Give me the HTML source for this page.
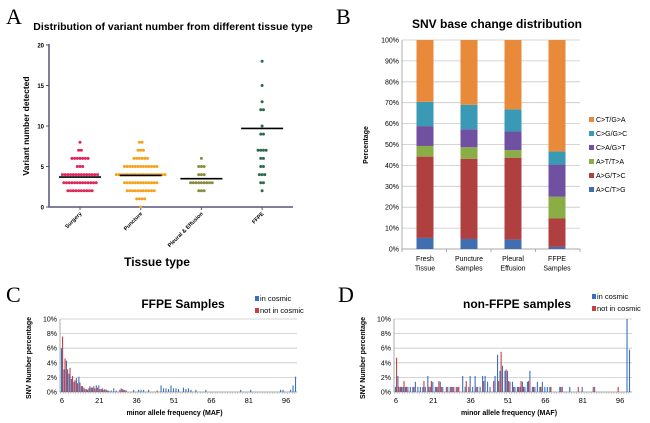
<!DOCTYPE html>
<html><head><meta charset="utf-8"><style>
body{margin:0;background:#fff;}
svg{display:block;font-family:"Liberation Sans",Arial,sans-serif;}
</style></head><body>
<svg id="fig" width="650" height="423" viewBox="0 0 650 423">
<g id="pA"></g>
<g id="pB"></g>
<g id="pC"></g>
<g id="pD"></g>
</svg>
<script>
// ---- Panel A data ----
const aCategories=["Surgery","Puncture","Pleural & Effusion","FFPE"];
const aColors=["#e0245a","#f5a21a","#8a8a3a","#2a6a4a"];
const aSurgery=[8,7,7,6,6,6,6,6,6,6,5,5,5,4,4,4,4,4,4,4,4,4,4,4,4,4,4,3,3,3,3,3,3,3,3,3,3,3,3,3,2,2,2,2,2,2,2,2,2,2];
const aPuncture=[8,8,7,7,7,6,6,6,6,6,6,5,5,5,5,5,5,5,5,5,5,5,5,5,4,4,4,4,4,4,4,4,4,4,4,4,4,4,4,4,4,4,4,3,3,3,3,3,3,3,3,3,3,3,3,3,2,2,2,2,2,2,2,2,2,2,2,1,1,1,1,0];
const aPleural=[6,5,5,5,4,4,4,3,3,3,3,3,3,3,3,3,2,2,2];
const aFFPE=[18,15,13,12,12,10,9,9,7,7,7,7,6,6,5,5,4,4,4,3,3,2];
const aMeans=[3.7,3.9,3.5,9.7];
const aTicks=[0,5,10,15,20];
// ---- Panel B data ----
const bCategories=[["Fresh","Tissue"],["Puncture","Samples"],["Pleural","Effusion"],["FFPE","Samples"]];
const bSeries=["A>C/T>G","A>G/T>C","A>T/T>A","C>A/G>T","C>G/G>C","C>T/G>A"];
const bColors=["#3f6fb0","#b04040","#8aad45","#7050a0","#3a9ab5","#e88a3a"];
const bAC=[5.3,4.8,4.5,1.0];
const bAG=[38.9,38.4,39.2,13.6];
const bAT=[5.1,5.5,3.6,10.4];
const bCA=[9.5,8.6,8.9,15.4];
const bCG=[11.6,11.7,10.6,6.3];
const bCT=[29.6,31.0,33.2,53.3];
const bTicks=[0,10,20,30,40,50,60,70,80,90,100];
// ---- Panel C data (MAF -> %) ----
const cBlueMaf=[6,7,8,9,10,11,12,13,14,15,16,17,18,19,20,21,22,23,24,25,26,27,28,30,31,32,35,37,38,39,41,46,47,48,49,50,51,52,53,55,56,57,58,60,64,78,82,94,95,98,99,100];
const cBlueVal=[6,3.1,4.3,2.5,1.8,1.4,1.9,2.1,0.8,0.6,0.4,0.5,0.6,0.8,0.9,0.9,0.4,0.3,0.3,0.2,0.2,0.5,0.2,0.5,0.3,0.2,0.3,0.3,0.3,0.3,0.3,0.9,0.5,0.5,0.4,0.9,0.5,0.5,0.4,0.6,0.4,0.5,0.3,0.3,0.3,0.3,0.3,0.3,0.3,0.3,0.9,2.1];
const cRedMaf=[6,7,8,9,10,11,12,13,14,15,16,17,18,19,20,21,22,23,24,29,30,31,44];
const cRedVal=[7.6,4.6,3.1,3.3,2.2,1.6,1.2,1.3,0.8,0.4,0.3,0.8,0.6,0.5,0.6,0.4,0.5,0.4,0.2,0.3,0.4,0.3,0.2];
// ---- Panel D data ----
const dBlueMaf=[6,7,8,9,10,11,12,13,14,15,16,17,18,19,20,21,22,23,24,25,27,28,29,31,33,34,36,37,38,39,40,41,42,43,44,46,47,48,49,50,51,52,53,54,55,56,57,58,59,60,61,62,63,64,65,66,67,68,72,73,76,81,86,99,100];
const dBlueVal=[0.7,2.2,0.7,0.7,0.7,0.7,0.7,0.7,1.4,0.7,0.7,0.7,0.7,2.2,0.7,1.4,0.7,0.7,1.4,0.7,0.7,0.7,0.7,0.7,2.2,0.7,2.2,0.7,2.2,0.7,0.7,2.2,2.2,1.4,0.7,2.2,5.1,2.9,3.6,2.9,2.9,1.4,1.4,0.7,0.7,0.7,1.4,0.7,1.4,2.9,0.7,0.7,1.4,0.7,1.4,0.7,0.7,0.7,0.7,0.7,0.7,0.7,0.7,10,5.8];
const dRedMaf=[6,7,8,9,10,13,17,19,20,22,23,24,26,28,29,30,31,34,35,38,41,45,47,48,50,51,53,55,56,57,59,61,64,68,72,79,85,95];
const dRedVal=[4.7,0.7,0.7,1.5,0.7,0.7,1.5,0.7,1.5,0.7,1.5,0.7,0.7,0.7,0.7,0.7,0.7,1.5,0.7,0.7,1.5,1.5,1.5,5.5,3.1,1.5,0.7,0.7,1.5,0.7,1.5,0.7,0.7,0.7,0.7,0.7,0.7,0.7];
const mafTicks=[6,21,36,51,66,81,96];
const pctTicks=[0,2,4,6,8,10];

const NS="http://www.w3.org/2000/svg";
function mk(parent,tag,attrs,text){const e=document.createElementNS(NS,tag);for(const k in attrs)e.setAttribute(k,attrs[k]);if(text!==undefined)e.textContent=text;parent.appendChild(e);return e;}

// ===== Panel A =====
(function(){
const g=document.getElementById('pA');
const y=v=>207-v*8.1, x=i=>80+i*60.7;
let t=mk(g,'text',{x:6,y:24,'font-family':'Liberation Serif,serif','font-size':22},'A');


t=mk(g,'text',{x:173,y:30,'font-size':10.5,'font-weight':'bold','text-anchor':'middle'},'Distribution of variant number from different tissue type');


let ax=mk(g,'path',{d:'M49,44V207H293',stroke:'#55557a','stroke-width':1.5,fill:'none'});


aTicks.forEach(v=>{mk(g,'line',{x1:46,x2:49,y1:y(v),y2:y(v),stroke:'#55557a'});
 let l=mk(g,'text',{x:44,y:y(v)+2.5,'font-size':6,'font-weight':'bold','text-anchor':'end'},v);
 
 });
t=mk(g,'text',{x:0,y:0,'font-size':8.5,'font-weight':'bold','text-anchor':'middle',transform:'translate(29,126) rotate(-90)'},'Variant number detected');


const groups=[aSurgery,aPuncture,aPleural,aFFPE];
groups.forEach((arr,i)=>{
 const cx=x(i);
 mk(g,'line',{x1:cx,x2:cx,y1:207,y2:210,stroke:'#55557a'});
 const counts={};arr.forEach(v=>counts[v]=(counts[v]||0)+1);
 Object.keys(counts).forEach(k=>{const n=counts[k];for(let j=0;j<n;j++){
  const dx=(j-(n-1)/2)*2.7;
  let c=mk(g,'circle',{cx:cx+dx,cy:y(+k),r:1.5,fill:aColors[i]});
  
  }});
 let m=mk(g,'line',{x1:cx-21,x2:cx+21,y1:y(aMeans[i]),y2:y(aMeans[i]),stroke:'#000','stroke-width':1.6});
 
 
 let l=mk(g,'text',{x:0,y:0,'font-size':5.5,'font-weight':'bold','text-anchor':'end',transform:`translate(${cx+2},214) rotate(-45)`},aCategories[i]);
 
 
});
t=mk(g,'text',{x:157,y:266,'font-size':12,'font-weight':'bold','text-anchor':'middle'},'Tissue type');


})();

// ===== Panel B =====
(function(){
const g=document.getElementById('pB');
const y=v=>249-v*2.09, x=i=>425+i*44;
let t=mk(g,'text',{x:336,y:24,'font-family':'Liberation Serif,serif','font-size':22},'B');


t=mk(g,'text',{x:497,y:28,'font-size':12,'font-weight':'bold','text-anchor':'middle'},'SNV base change distribution');


bTicks.forEach(v=>{mk(g,'line',{x1:402,x2:580,y1:y(v),y2:y(v),stroke:'#c8c8c8','stroke-width':0.8});
 let l=mk(g,'text',{x:399,y:y(v)+2.5,'font-size':7,'text-anchor':'end'},v+'%');
 
 });
mk(g,'path',{d:'M402,40V249H580',stroke:'#999',fill:'none','stroke-width':0.8});
[0,1,2,3,4].forEach(i=>mk(g,'line',{x1:402+i*44.5,x2:402+i*44.5,y1:249,y2:252,stroke:'#999','stroke-width':0.8}));
t=mk(g,'text',{x:0,y:0,'font-size':7,'font-weight':'bold','text-anchor':'middle',transform:'translate(368,145) rotate(-90)'},'Percentage');


const series=[bAC,bAG,bAT,bCA,bCG,bCT];
bCategories.forEach((c,i)=>{
 let cum=0;
 series.forEach((s,k)=>{const v=s[i];
  let r=mk(g,'rect',{x:x(i)-8.5,y:y(cum+v),width:17,height:y(cum)-y(cum+v),fill:bColors[k]});
  
  
  cum+=v;});
 c.forEach((w,j)=>{let l=mk(g,'text',{x:x(i),y:261+j*9.5,'font-size':7,'text-anchor':'middle'},w);
  
  });
});
bSeries.slice().reverse().forEach((s,j)=>{const k=5-j;const yy=122+j*14;
 let e=mk(g,'g',{});
 
 
 mk(e,'rect',{x:589,y:yy-5,width:5,height:5,fill:bColors[k]});
 mk(e,'text',{x:596,y:yy,'font-size':7},s);});
})();

// ===== Panels C, D =====
function mafPanel(id,letter,lx,title,titleX,x0,right,legX,legY,blueM,blueV,redM,redV){
const g=document.getElementById(id);
const y=v=>392-v*7.3, x=m=>x0+(m-6)*2.49;
let t=mk(g,'text',{x:lx,y:302,'font-family':'Liberation Serif,serif','font-size':22},letter);


t=mk(g,'text',{x:titleX,y:308,'font-size':12,'font-weight':'bold','text-anchor':'middle'},title);


const left=x0-2;
pctTicks.forEach(v=>{mk(g,'line',{x1:left,x2:right,y1:y(v),y2:y(v),stroke:'#c8c8c8','stroke-width':0.8});
 let l=mk(g,'text',{x:left-3,y:y(v)+2.5,'font-size':7,'text-anchor':'end'},v+'%');
 
 });
mk(g,'path',{d:`M${left},319V392H${right}`,stroke:'#999',fill:'none','stroke-width':0.8});
for(let m=6;m<=100;m++)mk(g,'line',{x1:x(m)-1.2,x2:x(m)-1.2,y1:392,y2:394,stroke:'#aaa','stroke-width':0.5});
mafTicks.forEach(m=>{let l=mk(g,'text',{x:x(m),y:403,'font-size':7.5,'text-anchor':'middle'},m);
 
 });
t=mk(g,'text',{x:0,y:0,'font-size':7,'font-weight':'bold','text-anchor':'middle',transform:`translate(${left-29},358) rotate(-90)`},'SNV Number percentage');


t=mk(g,'text',{x:(left+right)/2-4,y:415,'font-size':7,'font-weight':'bold','text-anchor':'middle'},'minor allele frequency (MAF)');


blueM.forEach((m,i)=>{let r=mk(g,'rect',{x:x(m)-1.1,y:y(blueV[i]),width:1.1,height:blueV[i]*7.3,fill:'#3a70c0'});
 
 });
redM.forEach((m,i)=>{let r=mk(g,'rect',{x:x(m),y:y(redV[i]),width:1.1,height:redV[i]*7.3,fill:'#c84040'});
 
 });
[['in cosmic','#3a70c0'],['not in cosmic','#c84040']].forEach((e,j)=>{
 let gg=mk(g,'g',{});
 
 
 mk(gg,'rect',{x:legX,y:legY+j*12-5,width:4,height:5,fill:e[1]});
 mk(gg,'text',{x:legX+5,y:legY+j*12,'font-size':7.5},e[0]);});
}
mafPanel('pC','C',6,'FFPE Samples',183,62,297,255,301,cBlueMaf,cBlueVal,cRedMaf,cRedVal);
mafPanel('pD','D',338,'non-FFPE samples',517,396,632,592,299,dBlueMaf,dBlueVal,dRedMaf,dRedVal);
</script>
</body></html>
